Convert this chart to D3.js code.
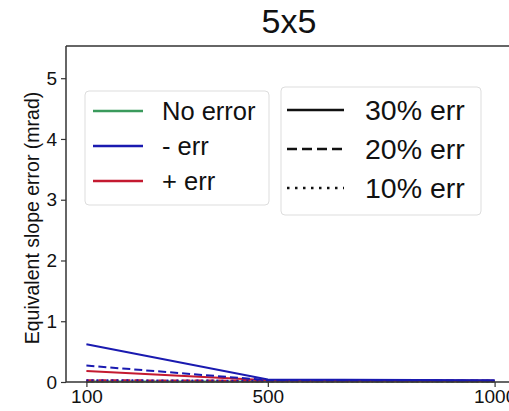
<!DOCTYPE html>
<html>
<head>
<meta charset="utf-8">
<script src="https://cdn.jsdelivr.net/npm/d3@7"></script>
<style>
body{margin:0;background:#fff;}
text{font-family:"Liberation Sans",Arial,sans-serif;fill:#111;}
</style>
</head>
<body>
<svg id="c" width="509" height="411"></svg>
<script>
// Data
const xValues = [100, 500, 1000];
const xTicks = [100, 500, 1000];
const yTicks = [0, 1, 2, 3, 4, 5];
const noErr30 = [0.01, 0.01, 0.01];
const noErr20 = [0.01, 0.01, 0.01];
const noErr10 = [0.01, 0.01, 0.01];
const minusErr30 = [0.62, 0.04, 0.03];
const minusErr20 = [0.27, 0.03, 0.02];
const minusErr10 = [0.03, 0.02, 0.02];
const plusErr30 = [0.18, 0.03, 0.02];
const plusErr20 = [0.03, 0.02, 0.02];
const plusErr10 = [0.01, 0.01, 0.01];
const colorLabels = ["No error", "- err", "+ err"];
const styleLabels = ["30% err", "20% err", "10% err"];
const title = "5x5";
const yLabel = "Equivalent slope error (mrad)";

const colors = {"No error": "#3a9a5c", "- err": "#1a1ab0", "+ err": "#c41a30"};
const dashes = {"30% err": null, "20% err": "8,4", "10% err": "2,3"};

const series = [
  {c: "No error", s: "30% err", v: noErr30},
  {c: "No error", s: "20% err", v: noErr20},
  {c: "No error", s: "10% err", v: noErr10},
  {c: "+ err", s: "30% err", v: plusErr30},
  {c: "+ err", s: "20% err", v: plusErr20},
  {c: "+ err", s: "10% err", v: plusErr10},
  {c: "- err", s: "30% err", v: minusErr30},
  {c: "- err", s: "20% err", v: minusErr20},
  {c: "- err", s: "10% err", v: minusErr10}
];

const svg = d3.select("#c");
const L = 66, R = 515, T = 46, B = 382;
const x = d3.scaleLinear().domain([55, 1045]).range([L, R]);
const y = d3.scaleLinear().domain([0, 5.53]).range([B, T]);

// lines
const line = d3.line().x((d, i) => x(xValues[i])).y(d => y(d));
series.forEach(s => {
  svg.append("path").datum(s.v)
    .attr("d", line)
    .attr("fill", "none")
    .attr("stroke", colors[s.c])
    .attr("stroke-width", 2)
    .attr("stroke-dasharray", dashes[s.s]);
});

// axes
const yAxis = svg.append("g").attr("transform", `translate(${L},0)`)
  .call(d3.axisLeft(y).tickValues(yTicks).tickFormat(d3.format("d")).tickSize(5).tickPadding(4));
const xAxis = svg.append("g").attr("transform", `translate(0,${B})`)
  .call(d3.axisBottom(x).tickValues(xTicks).tickFormat(d3.format("d")).tickSize(5).tickPadding(3));
[yAxis, xAxis].forEach(g => {
  g.select(".domain").remove();
  g.selectAll("line").attr("stroke", "#333").attr("stroke-width", 1.2);
  g.selectAll("text").style("font-size", "19px").attr("fill", "#111");
});
// spines
svg.append("line").attr("x1", L).attr("x2", L).attr("y1", T).attr("y2", B).attr("stroke", "#333").attr("stroke-width", 1.5);
svg.append("line").attr("x1", L).attr("x2", R).attr("y1", B).attr("y2", B).attr("stroke", "#333").attr("stroke-width", 1.5);
svg.append("line").attr("x1", L).attr("x2", R).attr("y1", T).attr("y2", T).attr("stroke", "#333").attr("stroke-width", 1.5);

// title
svg.append("text").attr("x", 289).attr("y", 33).attr("text-anchor", "middle")
  .style("font-size", "34px").text(title);
// y label
svg.append("text").attr("transform", `translate(39,${(T + B) / 2 + 4}) rotate(-90)`)
  .attr("text-anchor", "middle").style("font-size", "19.5px").attr("fill", "#222").text(yLabel);

// legend 1 (colours)
const lg1 = svg.append("g");
lg1.append("rect").attr("x", 85).attr("y", 91).attr("width", 184).attr("height", 114)
  .attr("rx", 4).attr("fill", "#fff").attr("fill-opacity", 0.85).attr("stroke", "#ddd");
colorLabels.forEach((lab, i) => {
  const yy = 111 + i * 35;
  lg1.append("line").attr("x1", 93).attr("x2", 143).attr("y1", yy).attr("y2", yy)
    .attr("stroke", colors[lab]).attr("stroke-width", 2.5);
  lg1.append("text").attr("x", 162).attr("y", yy + 9).style("font-size", "25.5px").text(lab);
});

// legend 2 (styles)
const lg2 = svg.append("g");
lg2.append("rect").attr("x", 281).attr("y", 87).attr("width", 200).attr("height", 128)
  .attr("rx", 4).attr("fill", "#fff").attr("fill-opacity", 0.85).attr("stroke", "#ddd");
styleLabels.forEach((lab, i) => {
  const yy = 110 + i * 39;
  lg2.append("line").attr("x1", 287).attr("x2", 344).attr("y1", yy).attr("y2", yy)
    .attr("stroke", "#111").attr("stroke-width", 2.5)
    .attr("stroke-dasharray", lab === "20% err" ? "10,5" : lab === "10% err" ? "2.5,5.5" : null);
  lg2.append("text").attr("x", 365).attr("y", yy + 10).style("font-size", "28.5px").text(lab);
});
</script>
</body>
</html>
